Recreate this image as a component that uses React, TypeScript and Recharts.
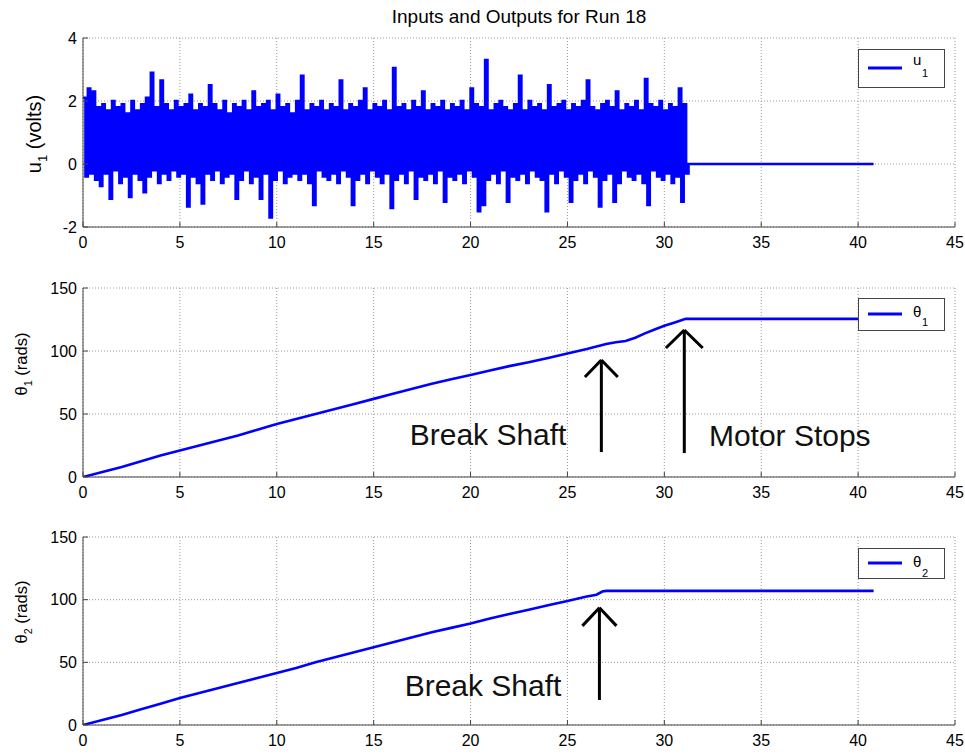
import {
  LineChart,
  Line,
  XAxis,
  YAxis,
  CartesianGrid,
  ReferenceLine,
  ReferenceDot,
} from "recharts";

const FONT = '"Liberation Sans", Arial, Helvetica, sans-serif';
const BLUE = "#0000ff";
const FRAME = "#444";

const X_TICKS = [0, 5, 10, 15, 20, 25, 30, 35, 40, 45];
const U1_TICKS = [-2, 0, 2, 4];
const THETA_TICKS = [0, 50, 100, 150];

// input voltage, held for U1_DT seconds per sample, then motor off
const U1_DT = 0.125;
const U1_END = 40.8;
const U1 = [
  2.1, -0.4, 2.4, -0.3, 2.3, -0.5, 1.8, -0.7, 1.9, -0.3,
  1.7, -1.1, 2.0, -0.2, 1.8, -0.6, 1.9, -0.4, 1.6, -1.05,
  2.0, -0.3, 1.7, -0.5, 1.9, -0.9, 2.1, -0.4, 2.9, -0.2,
  1.8, -0.6, 2.65, -0.3, 1.9, -0.5, 1.7, -0.2, 2.0, -0.4,
  1.8, -0.3, 1.9, -1.35, 2.2, -0.4, 1.7, -0.6, 1.9, -1.25,
  1.8, -0.3, 2.5, -0.5, 1.9, -0.2, 1.7, -0.6, 2.0, -0.4,
  1.6, -0.3, 1.9, -1.1, 1.8, -0.5, 2.0, -0.2, 1.7, -0.6,
  2.3, -0.4, 1.8, -1.1, 1.9, -0.3, 2.0, -1.7, 1.7, -0.5,
  2.2, -0.2, 1.8, -0.6, 1.9, -0.4, 1.6, -0.3, 2.0, -0.5,
  2.8, -0.3, 1.7, -0.6, 1.9, -1.3, 1.8, -0.2, 2.0, -0.4,
  1.7, -0.5, 1.9, -0.3, 1.8, -0.6, 2.65, -0.2, 1.7, -0.4,
  1.9, -1.3, 1.8, -0.5, 2.0, -0.3, 2.4, -0.6, 1.7, -0.2,
  1.9, -0.4, 1.8, -0.6, 2.0, -0.3, 1.7, -1.4, 3.05, -0.5,
  1.8, -0.3, 1.9, -0.6, 1.7, -0.2, 2.0, -1.1, 1.8, -0.4,
  2.3, -0.5, 1.7, -0.3, 1.9, -0.6, 1.8, -0.2, 2.0, -1.2,
  1.7, -0.4, 1.9, -0.5, 1.8, -0.3, 2.0, -0.6, 1.7, -0.2,
  2.4, -0.4, 1.9, -1.5, 1.8, -1.3, 3.3, -0.5, 1.7, -0.3,
  1.9, -0.6, 2.0, -0.2, 1.8, -1.2, 1.7, -0.4, 1.9, -0.5,
  2.8, -0.3, 1.7, -0.6, 2.0, -0.2, 1.8, -0.4, 1.9, -0.5,
  1.7, -1.5, 2.5, -0.3, 1.8, -0.6, 1.9, -0.2, 2.0, -0.4,
  1.7, -1.2, 1.9, -0.5, 1.8, -0.3, 2.0, -0.6, 2.65, -0.2,
  1.8, -0.4, 1.7, -1.35, 1.9, -0.5, 2.0, -0.3, 1.8, -1.2,
  2.3, -0.6, 1.7, -0.2, 1.9, -0.4, 1.8, -0.5, 2.0, -0.3,
  1.7, -0.6, 2.7, -1.3, 1.9, -0.2, 1.8, -0.4, 2.0, -0.5,
  1.7, -0.3, 1.9, -0.6, 1.8, -0.4, 2.4, -1.2, 1.9, -0.3,
];

// motor angle
const THETA1_T = [0, 1, 2, 3, 4, 5, 6, 7, 8, 9, 10, 11, 12, 13, 14, 15, 16, 17, 18, 19, 20, 21, 22, 23, 24, 25, 26, 27, 27.5, 28, 28.5, 29, 29.5, 30, 30.5, 31.1, 40.8];
const THETA1_V = [0, 4, 8, 12.5, 17, 21, 25, 29, 33, 37.5, 42, 46, 50, 54, 58, 62, 66, 70, 74, 77.5, 81, 84.5, 88, 91, 94.5, 98, 101.5, 105.5, 107, 108, 110.5, 114, 117, 120, 122.5, 125.5, 125.5];

// load angle
const THETA2_T = [0, 1, 2, 3, 4, 5, 6, 7, 8, 9, 10, 11, 12, 13, 14, 15, 16, 17, 18, 19, 20, 21, 22, 23, 24, 25, 26, 26.5, 26.8, 27, 40.8];
const THETA2_V = [0, 4, 8, 12.5, 17, 21.5, 25.5, 29.5, 33.5, 37.5, 41.5, 45.5, 50, 54, 58, 62, 66, 70, 74, 77.5, 81, 85, 88.5, 92, 95.5, 99, 102.5, 104, 106.5, 107, 107];

// annotations (data coordinates)
const ARROWS_2 = [
  { x: 26.75, y0: 19.8, y1: 92.9, hx: 0.85, hy: 13.5 },
  { x: 31.03, y0: 19, y1: 116.7, hx: 0.95, hy: 14.3 },
];
const NOTES_2 = [
  { text: "Break Shaft", x: 16.86, y: 25.4 },
  { text: "Motor Stops", x: 32.3, y: 24.6 },
];
const ARROWS_3 = [{ x: 26.65, y0: 20, y1: 93.5, hx: 0.88, hy: 14.4 }];
const NOTES_3 = [{ text: "Break Shaft", x: 16.6, y: 23.4 }];

const u1Data = [
  ...U1.map((v, i) => ({ t: i * U1_DT, v })),
  { t: U1.length * U1_DT, v: 0 },
  { t: U1_END, v: 0 },
];
const theta1Data = THETA1_T.map((t, i) => ({ t, v: THETA1_V[i] }));
const theta2Data = THETA2_T.map((t, i) => ({ t, v: THETA2_V[i] }));

type Arrow = { x: number; y0: number; y1: number; hx: number; hy: number };
type Note = { text: string; x: number; y: number };

function noteLabel(text: string) {
  return (props: any) => {
    const vb = props.viewBox;
    return (
      <text x={vb.x} y={vb.y} fontSize={30} fontFamily={FONT} fill="#111">
        {text}
      </text>
    );
  };
}

function Legend({ top, height, sym, sub, lineY, textY, subY }: any) {
  return (
    <div
      style={{
        position: "absolute",
        left: 858,
        top,
        width: 87,
        height,
        background: "#fff",
        boxSizing: "border-box",
        border: `1px solid ${FRAME}`,
      }}
    >
      <svg width={85} height={height - 2} style={{ display: "block" }}>
        <line x1={9} x2={43} y1={lineY} y2={lineY} stroke={BLUE} strokeWidth={3} />
        <text x={54} y={textY} fontSize={15} fontFamily={FONT} fill="#000">
          {sym}
        </text>
        <text x={63} y={subY} fontSize={11} fontFamily={FONT} fill="#000">
          {sub}
        </text>
      </svg>
    </div>
  );
}

function Panel({
  top,
  height,
  marginTop,
  axisHeight,
  data,
  yDomain,
  yTicks,
  step,
  label,
  legend,
  arrows,
  notes,
}: any) {
  const lbl = label;
  return (
    <div style={{ position: "absolute", left: 0, top, width: 965, height }}>
      <LineChart width={965} height={height} margin={{ top: marginTop, right: 10, bottom: 0, left: 0 }}>
        <CartesianGrid stroke="#999" strokeDasharray="1 2" />
        <XAxis
          dataKey="t"
          type="number"
          domain={[0, 45]}
          ticks={X_TICKS}
          interval={0}
          height={axisHeight}
          allowDataOverflow
          tickSize={-5}
          tickMargin={15}
          stroke={FRAME}
          tick={{ fill: "#000", fontSize: 16, fontFamily: FONT }}
        />
        <XAxis
          xAxisId="top"
          orientation="top"
          type="number"
          domain={[0, 45]}
          ticks={X_TICKS}
          interval={0}
          height={0}
          tickSize={-5}
          tick={false}
          stroke={FRAME}
        />
        <YAxis
          type="number"
          domain={yDomain}
          ticks={yTicks}
          interval={0}
          width={83}
          allowDataOverflow
          tickSize={-5}
          tickMargin={11}
          stroke={FRAME}
          tick={{ fill: "#000", fontSize: 16, fontFamily: FONT }}
        />
        <YAxis
          yAxisId="right"
          orientation="right"
          type="number"
          domain={yDomain}
          ticks={yTicks}
          interval={0}
          width={0}
          tickSize={-5}
          tick={false}
          stroke={FRAME}
        />
        <Line
          data={data}
          dataKey="v"
          type={step ? "stepAfter" : "linear"}
          stroke={BLUE}
          strokeWidth={step ? 2.5 : 2.6}
          dot={false}
          isAnimationActive={false}
        />
        {(arrows || []).flatMap((a: Arrow, i: number) => [
          <ReferenceLine
            key={`s${i}`}
            segment={[{ x: a.x, y: a.y0 }, { x: a.x, y: a.y1 }]}
            stroke="#000"
            strokeWidth={3}
          />,
          <ReferenceLine
            key={`l${i}`}
            segment={[{ x: a.x - a.hx, y: a.y1 - a.hy }, { x: a.x, y: a.y1 }]}
            stroke="#000"
            strokeWidth={3}
          />,
          <ReferenceLine
            key={`r${i}`}
            segment={[{ x: a.x + a.hx, y: a.y1 - a.hy }, { x: a.x, y: a.y1 }]}
            stroke="#000"
            strokeWidth={3}
          />,
        ])}
        {(notes || []).map((n: Note, i: number) => (
          <ReferenceDot
            key={`n${i}`}
            x={n.x}
            y={n.y}
            r={0}
            fill="none"
            stroke="none"
            label={noteLabel(n.text)}
          />
        ))}
      </LineChart>
      <svg
        width={60}
        height={height}
        style={{ position: "absolute", left: 0, top: 0, pointerEvents: "none" }}
      >
        <text
          x={lbl.cx}
          y={lbl.cy}
          transform={`rotate(-90 ${lbl.cx} ${lbl.cy})`}
          textAnchor="middle"
          fontSize={lbl.size}
          fontFamily={FONT}
          fill="#000"
        >
          {lbl.sym}
          <tspan dy={lbl.size * 0.3} fontSize={lbl.size * 0.65}>
            {lbl.sub}
          </tspan>
          <tspan dy={-lbl.size * 0.3}>{" " + lbl.unit}</tspan>
        </text>
      </svg>
      <Legend {...legend} top={legend.top - top} />
    </div>
  );
}

export default function App() {
  return (
    <div
      style={{
        position: "absolute",
        left: 0,
        top: 0,
        width: 965,
        height: 756,
        background: "#fff",
        fontFamily: FONT,
      }}
    >
      <div
        style={{
          position: "absolute",
          left: 0,
          width: 1038,
          top: 6,
          textAlign: "center",
          fontSize: 19,
          color: "#000",
        }}
      >
        Inputs and Outputs for Run 18
      </div>
      <Panel
        top={0}
        height={250}
        marginTop={38}
        axisHeight={23}
        data={u1Data}
        yDomain={[-2, 4]}
        yTicks={U1_TICKS}
        step
        label={{ sym: "u", sub: "1", unit: "(volts)", cx: 41, cy: 134, size: 20 }}
        legend={{ top: 49, height: 39, sym: "u", sub: "1", lineY: 18, textY: 15, subY: 27 }}
      />
      <Panel
        top={250}
        height={250}
        marginTop={38}
        axisHeight={23}
        data={theta1Data}
        yDomain={[0, 150]}
        yTicks={THETA_TICKS}
        label={{ sym: "θ", sub: "1", unit: "(rads)", cx: 27, cy: 114, size: 16.5 }}
        legend={{ top: 298, height: 33, sym: "θ", sub: "1", lineY: 15, textY: 18, subY: 27 }}
        arrows={ARROWS_2}
        notes={NOTES_2}
      />
      <Panel
        top={500}
        height={256}
        marginTop={37}
        axisHeight={31}
        data={theta2Data}
        yDomain={[0, 150]}
        yTicks={THETA_TICKS}
        label={{ sym: "θ", sub: "2", unit: "(rads)", cx: 27, cy: 112, size: 16.5 }}
        legend={{ top: 548, height: 31, sym: "θ", sub: "2", lineY: 14, textY: 18, subY: 28 }}
        arrows={ARROWS_3}
        notes={NOTES_3}
      />
    </div>
  );
}
